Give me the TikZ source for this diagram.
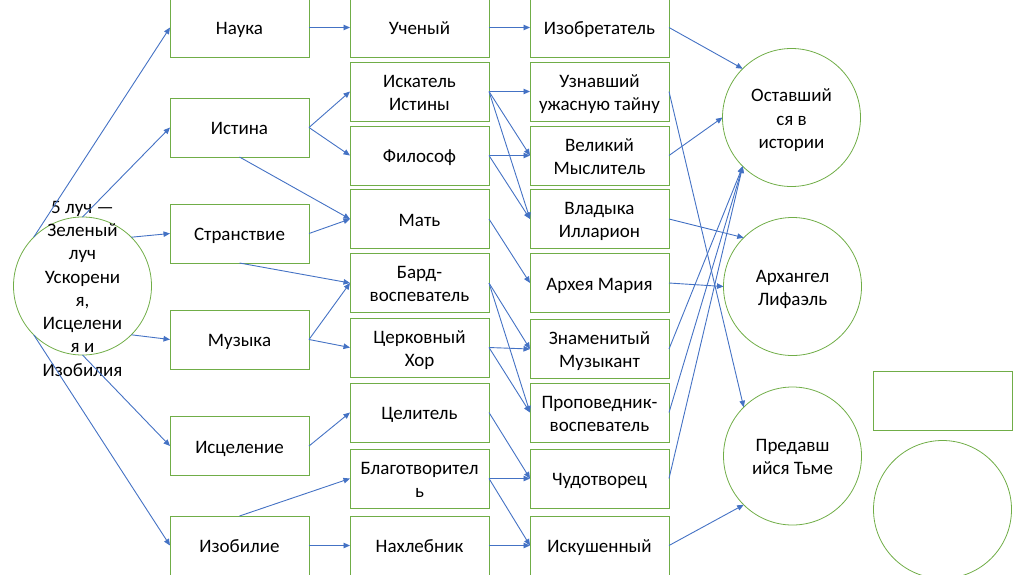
\documentclass[tikz,border=0pt]{standalone}
\usepackage{fontspec}
\setmainfont{Carlito}
\usetikzlibrary{arrows.meta}
\definecolor{bgreen}{HTML}{70AD47}
\definecolor{ablue}{HTML}{4472C4}
\newcommand\topst{\rule{0pt}{19.4pt}}
\newcommand\botst{\rule[-5pt]{0pt}{5pt}}
\begin{document}
\begin{tikzpicture}[x=1pt,y=-1pt,
 lbl/.style={align=center, font=\fontsize{19}{23.3}\selectfont,
   execute at begin node={\topst},
   execute at end node={\botst}},
 box/.style={lbl, draw=bgreen, line width=0.8pt, minimum width=139pt, minimum height=59pt, inner sep=0pt, outer sep=0pt},
 circ/.style={draw=bgreen, line width=0.8pt, circle, minimum size=138pt, inner sep=0pt, outer sep=0pt},
 txt/.style={lbl, inner sep=0pt},
 arr/.style={draw=ablue, line width=0.9pt, -{Triangle[length=6.5pt,width=5.5pt]}}]
\useasboundingbox (0,0) rectangle (1024,574);
\clip (0,0) rectangle (1024,574);
% left circle
\node[circ] (c0) at (82.5,286) {};
\node[txt] (c0t) at (82.5,287.5) {\topst 5 луч —\\Зеленый\\луч\\Ускорени\\я,\\Исцелени\\я и\\Изобилия\botst};
% column 1
\node[box] (nauka) at (239.5,27.5) {Наука};
\node[box] (istina) at (239.5,127.5) {Истина};
\node[box] (strans) at (239.5,233.5) {Странствие};
\node[box] (muz) at (239.5,339.5) {Музыка};
\node[box] (iscel) at (239.5,446) {Исцеление};
\node[box] (izob) at (239.5,545.5) {Изобилие};
% column 2
\node[box] (uch) at (419.5,27.5) {Ученый};
\node[box] (iskat) at (419.5,91.5) {\topst Искатель\\Истины\botst};
\node[box] (filos) at (419.5,155.5) {Философ};
\node[box] (mat) at (419.5,219) {Мать};
\node[box] (bard) at (419.5,283) {\topst Бард-\\воспеватель\botst};
\node[box] (hor) at (419.5,347.5) {\topst Церковный\\Хор\botst};
\node[box] (celit) at (419.5,412.5) {Целитель};
\node[box] (blag) at (419.5,478.5) {\topst Благотворител\\ь\botst};
\node[box] (nahl) at (419.5,545.5) {Нахлебник};
% column 3
\node[box] (izobr) at (599.5,27.5) {Изобретатель};
\node[box] (uzn) at (599.5,91.5) {\topst Узнавший\\ужасную тайну\botst};
\node[box] (vel) at (599.5,155.5) {\topst Великий\\Мыслитель\botst};
\node[box] (vlad) at (599.5,219) {\topst Владыка\\Илларион\botst};
\node[box] (arh) at (599.5,283) {Архея Мария};
\node[box] (znam) at (599.5,349) {\topst Знаменитый\\Музыкант\botst};
\node[box] (prop) at (599.5,412.5) {\topst Проповедник-\\воспеватель\botst};
\node[box] (chud) at (599.5,478.5) {Чудотворец};
\node[box] (isk) at (599.5,545.5) {Искушенный};
% right circles
\node[circ] (cost) at (791.5,117.5) {};
\node[txt] (costt) at (791.5,118) {\topst Оставший\\ся в\\истории\botst};
\node[circ] (carh) at (792.5,286.5) {};
\node[txt] (carht) at (792.5,287) {\topst Архангел\\Лифаэль\botst};
\node[circ] (cpred) at (792.5,456) {};
\node[txt] (cpredt) at (792.5,456) {\topst Предавш\\ийся Тьме\botst};
\node[box] (rempty) at (942.5,400.5) {};
\node[circ] (cempty) at (942.5,509.5) {};
% edges: circle -> column 1
\draw[arr] (c0.north west) -- (nauka.west);
\draw[arr] (c0.north) -- (istina.west);
\draw[arr] (c0.north east) -- (strans.west);
\draw[arr] (c0.south east) -- (muz.west);
\draw[arr] (c0.south) -- (iscel.west);
\draw[arr] (c0.south west) -- (izob.west);
% column 1 -> column 2
\draw[arr] (nauka.east) -- (uch.west);
\draw[arr] (istina.east) -- (iskat.west);
\draw[arr] (istina.east) -- (filos.west);
\draw[arr] (istina.south) -- (mat.west);
\draw[arr] (strans.east) -- (mat.west);
\draw[arr] (strans.south) -- (bard.west);
\draw[arr] (muz.east) -- (bard.west);
\draw[arr] (muz.east) -- (hor.west);
\draw[arr] (iscel.east) -- (celit.west);
\draw[arr] (izob.north) -- (blag.west);
\draw[arr] (izob.east) -- (nahl.west);
% column 2 -> column 3
\draw[arr] (uch.east) -- (izobr.west);
\draw[arr] (iskat.east) -- (uzn.west);
\draw[arr] (iskat.east) -- (vel.west);
\draw[arr] (iskat.east) -- (vlad.west);
\draw[arr] (filos.east) -- (vel.west);
\draw[arr] (filos.east) -- (vlad.west);
\draw[arr] (mat.east) -- (arh.west);
\draw[arr] (bard.east) -- (znam.west);
\draw[arr] (bard.east) -- (prop.west);
\draw[arr] (hor.east) -- (znam.west);
\draw[arr] (hor.east) -- (prop.west);
\draw[arr] (celit.east) -- (chud.west);
\draw[arr] (blag.east) -- (chud.west);
\draw[arr] (blag.east) -- (isk.west);
\draw[arr] (nahl.east) -- (isk.west);
% column 3 -> circles
\draw[arr] (izobr.east) -- (cost.north west);
\draw[arr] (uzn.east) -- (cpred.north west);
\draw[arr] (vel.east) -- (cost.west);
\draw[arr] (vlad.east) -- (carh.north west);
\draw[arr] (arh.east) -- (carh.west);
\draw[arr] (znam.east) -- (cost.south west);
\draw[arr] (prop.east) -- (cost.south west);
\draw[arr] (chud.east) -- (cost.south west);
\draw[arr] (isk.east) -- (cpred.south west);
\end{tikzpicture}
\end{document}
